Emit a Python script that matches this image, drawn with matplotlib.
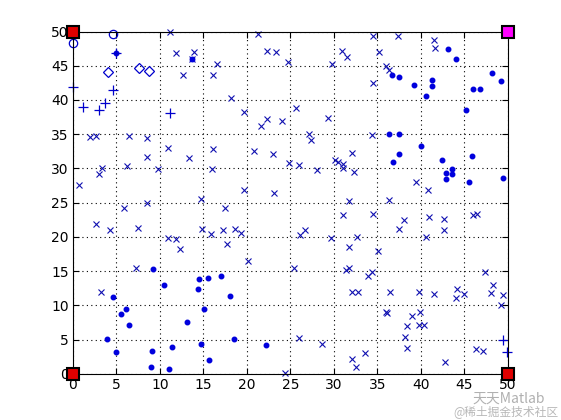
import matplotlib
matplotlib.use('Agg')
import matplotlib.pyplot as plt

# 'x' markers
cross_x = [11.15, 11.8, 13.9, 13.7, 16.6, 12.7, 16.1, 2.0, 2.6, 6.5, 8.5, 10.96, 16.1,
           21.3, 22.3, 23.3, 24.75, 29.8, 30.9, 31.5, 18.2, 19.7, 25.7, 22.3, 21.6, 24.0, 29.3, 27.2, 27.4, 20.8,
           34.5, 37.4, 35.2, 41.5, 41.6, 36.05, 36.4, 34.5, 34.4,
           0.73, 3.0, 3.4, 6.2, 8.5, 9.8, 13.3, 16.0, 5.9, 8.5, 14.7, 2.6, 4.3, 7.5, 10.96, 11.8, 12.3, 14.8, 15.9, 7.2,
           23.0, 24.9, 26.0, 28.1, 30.1, 30.5, 31.1, 31.1, 32.1, 32.3, 19.7, 23.1, 31.8, 17.5, 31.1, 17.3, 18.6, 19.3,
           17.7, 26.1, 26.7, 29.7, 32.7, 31.8, 20.15, 25.4,
           39.4, 40.8, 36.4, 34.5, 38.1, 41.0, 42.7, 46.0, 46.5, 37.5, 42.7, 40.65, 35.1,
           24.4, 26.0, 28.6, 31.45, 31.8, 32.1, 32.8, 33.9, 32.1, 33.6, 32.6,
           34.45, 36.5, 39.8, 41.5, 36.0, 36.15, 39.0, 39.9, 38.4, 39.8, 40.4, 38.2, 38.4, 42.8,
           47.4, 48.3, 48.1, 49.5, 49.2, 44.2, 44.1, 45.0, 46.3, 47.2, 3.2]
cross_y = [50.0, 46.9, 47.0, 46.05, 45.2, 43.7, 43.7, 34.55, 34.7, 34.7, 34.45, 33.0, 32.9,
           49.6, 47.1, 47.0, 45.6, 45.3, 47.1, 46.3, 40.3, 38.3, 38.8, 37.2, 36.2, 36.9, 37.4, 35.0, 34.1, 32.6,
           49.4, 49.4, 47.0, 48.7, 47.6, 45.0, 44.4, 42.5, 34.9,
           27.6, 29.2, 30.1, 30.4, 31.7, 29.9, 31.5, 29.9, 24.2, 25.0, 25.5, 21.9, 21.0, 21.3, 19.8, 19.7, 18.2, 21.15, 20.4, 15.5,
           32.1, 30.8, 30.5, 29.7, 31.3, 31.0, 30.7, 30.1, 32.25, 29.5, 26.8, 26.4, 25.3, 24.2, 23.25, 21.05, 21.15, 20.6,
           19.0, 20.3, 21.05, 19.8, 20.0, 18.5, 16.5, 15.4,
           28.0, 26.8, 25.4, 23.4, 22.5, 22.9, 22.6, 23.2, 23.4, 21.15, 21.0, 20.0, 18.0,
           0.1, 5.2, 4.3, 15.1, 15.4, 12.0, 11.9, 14.3, 2.15, 3.0, 0.98,
           14.9, 11.95, 11.95, 11.65, 9.0, 8.85, 8.4, 9.0, 7.0, 7.15, 7.15, 5.35, 3.75, 1.7,
           14.9, 13.0, 11.8, 11.5, 10.1, 12.4, 11.05, 11.7, 3.6, 3.35, 11.9]

# '.' markers
dot_x = [13.7, 4.9, 43.1, 44.0, 36.7, 37.5, 39.2, 41.3, 41.3, 40.65, 48.2, 49.2, 46.0, 46.8, 45.2, 36.4, 37.5, 40.0,
         37.5, 36.8, 42.4, 45.9, 43.6, 42.9, 43.6, 42.9, 45.6, 49.5,
         9.2, 4.6, 10.5, 14.5, 15.55, 14.4, 6.1, 5.5, 15.1, 6.4, 13.1, 3.9, 4.9, 9.1, 11.4, 14.75, 15.7, 9.0, 11.0,
         17.05, 18.1, 18.5, 22.15]
dot_y = [46.05, 46.9, 47.4, 46.0, 43.7, 43.4, 42.2, 42.9, 42.05, 40.6, 44.0, 42.8, 41.6, 41.6, 38.55, 35.1, 35.0, 33.3,
         32.1, 31.0, 31.2, 31.8, 29.9, 29.3, 29.2, 28.45, 28.0, 28.6,
         15.3, 11.2, 13.0, 13.8, 14.0, 12.4, 9.45, 8.7, 9.45, 7.1, 7.55, 5.1, 3.2, 3.4, 3.9, 4.3, 2.05, 0.98, 0.73,
         14.3, 11.4, 5.1, 4.2]

plus_x = [0, 4.6, 1.2, 3.0, 3.7, 11.15, 4.9, 49.5, 49.95]
plus_y = [41.9, 41.5, 39.0, 38.6, 39.6, 38.1, 46.9, 4.97, 3.2]

circ_x = [0, 4.64]
circ_y = [48.3, 49.6]

diam_x = [4.06, 7.6, 8.7]
diam_y = [44.05, 44.7, 44.3]

red_x = [0, 0, 50]
red_y = [0, 50, 0]
mag_x = [50]
mag_y = [50]

fig = plt.figure(figsize=(5.61, 4.2), dpi=100)
ax = fig.add_axes([0.13, 0.11, 0.775, 0.815])

ax.plot(cross_x, cross_y, 'x', color='#1010b0', ms=4.5, mew=0.8, clip_on=False)
ax.plot(dot_x, dot_y, '.', color='#0000dd', ms=6.5, clip_on=False)
ax.plot(plus_x, plus_y, '+', color='#0000cc', ms=7, mew=0.9, clip_on=False)
ax.plot(circ_x, circ_y, 'o', mfc='none', mec='#0000cc', ms=6, mew=0.9, clip_on=False)
ax.plot(diam_x, diam_y, 'D', mfc='none', mec='#0000cc', ms=5.5, mew=0.9, clip_on=False)
ax.plot(red_x, red_y, 's', mfc='#e00000', mec='k', ms=8, mew=1.5, clip_on=False, zorder=5)
ax.plot(mag_x, mag_y, 's', mfc='#ff00ff', mec='k', ms=8, mew=1.5, clip_on=False, zorder=5)

ax.set_xlim(0, 50)
ax.set_ylim(0, 50)
ax.set_xticks(range(0, 51, 5))
ax.set_yticks(range(0, 51, 5))
ax.tick_params(direction='in', top=True, right=True, length=4, width=0.8,
               labelsize=10, pad=3)
ax.grid(True, color='k', linestyle=(0, (1, 3)), linewidth=0.8)
for s in ax.spines.values():
    s.set_linewidth(0.8)

# watermark
fig.text(0.842, 0.050, '天天Matlab', fontsize=10, color='#b0b0b0',
         family=['Noto Sans CJK SC', 'DejaVu Sans'], va='center', ha='left')
fig.text(0.808, 0.020, '@稀土掘金技术社区', fontsize=8.5, color='#b8b8b8',
         family=['Noto Sans CJK SC', 'DejaVu Sans'], va='center', ha='left')

fig.savefig('out.png', dpi=100, facecolor='white')
